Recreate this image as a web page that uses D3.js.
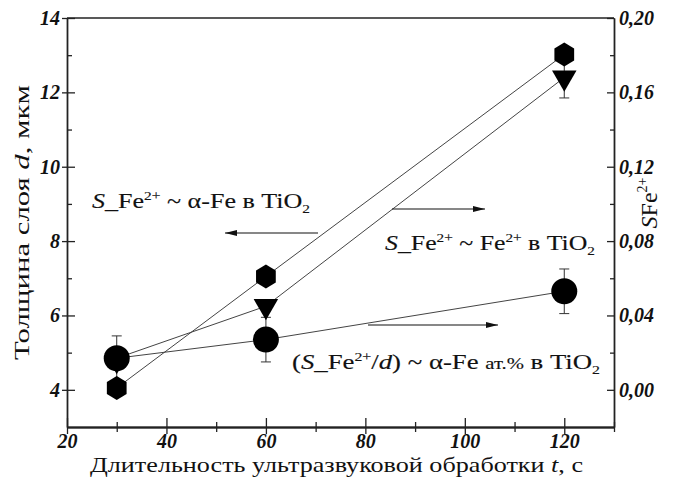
<!DOCTYPE html>
<html lang="ru">
<head>
    <meta charset="UTF-8">
    <title>Толщина слоя и SFe2+</title>
    <script src="https://d3js.org/d3.v7.min.js"></script>
    <style>
        body {
            margin: 0;
            background-color: #ffffff;
        }
        svg text {
            font-family: "Liberation Serif", "Times New Roman", serif;
            fill: #111;
        }
        .domain, .tick line {
            stroke: #222;
            stroke-width: 1.3;
        }
        .fit {
            fill: none;
            stroke: #444;
            stroke-width: 1;
        }
        .err {
            stroke: #333;
            stroke-width: 1;
        }
        .note {
            stroke: #111;
            stroke-width: 0.15;
        }
    </style>
</head>
<body>
<svg id="chart" width="684" height="477"></svg>
<script>
    // data
    const times = [30, 60, 120];
    const hexValues = [4.05, 7.05, 13.02];          // left axis, d, мкм
    const triValues = [0.016, 0.045, 0.168];        // right axis, SFe2+
    const triErr = [0, 0, 0.011];
    const circValues = [0.017, 0.027, 0.053];       // right axis
    const circErr = [0.012, 0.012, 0.012];

    const xMajor = [20, 40, 60, 80, 100, 120];
    const xMinor = [30, 50, 70, 90, 110, 130];
    const leftMajor = [4, 6, 8, 10, 12, 14];
    const leftMinor = [5, 7, 9, 11, 13];
    const rightMajor = [0, 0.04, 0.08, 0.12, 0.16, 0.20];
    const rightMinor = [0.02, 0.06, 0.10, 0.14, 0.18];

    const svg = d3.select("#chart");

    const x = d3.scaleLinear().domain([20, 130]).range([67, 614]);
    const yL = d3.scaleLinear().domain([3, 14]).range([427, 18]);
    const yR = d3.scaleLinear().domain([-0.02, 0.20]).range([427, 18]);

    const defs = svg.append("defs");
    defs.append("marker")
        .attr("id", "arrow")
        .attr("viewBox", "0 0 12 6")
        .attr("refX", 12)
        .attr("refY", 3)
        .attr("markerWidth", 12)
        .attr("markerHeight", 6)
        .attr("markerUnits", "userSpaceOnUse")
        .attr("orient", "auto")
      .append("path")
        .attr("d", "M0,0 L12,3 L0,6 Z")
        .attr("fill", "#111");

    // frame top
    svg.append("line")
        .attr("x1", x(20)).attr("x2", x(130))
        .attr("y1", yL(14)).attr("y2", yL(14))
        .attr("stroke", "#222").attr("stroke-width", 1.3);

    // x axis
    const xg = svg.append("g").attr("transform", `translate(0,${yL(3)})`);
    xg.call(d3.axisBottom(x).tickValues(xMajor).tickSize(7).tickPadding(0).tickSizeOuter(0));
    xg.append("g").call(d3.axisTop(x).tickValues(xMajor).tickSize(9).tickFormat("").tickSizeOuter(0));
    xg.append("g").call(d3.axisBottom(x).tickValues(xMinor).tickSize(5).tickFormat("").tickSizeOuter(0));
    xg.append("g").call(d3.axisTop(x).tickValues(xMinor).tickSize(5).tickFormat("").tickSizeOuter(0));

    // left axis
    const lg = svg.append("g").attr("transform", `translate(${x(20)},0)`);
    lg.call(d3.axisLeft(yL).tickValues(leftMajor).tickSize(5).tickPadding(2).tickSizeOuter(0));
    lg.append("g").call(d3.axisRight(yL).tickValues(leftMajor).tickSize(8).tickFormat("").tickSizeOuter(0));
    lg.append("g").call(d3.axisRight(yL).tickValues(leftMinor).tickSize(5).tickFormat("").tickSizeOuter(0));

    // right axis
    const rg = svg.append("g").attr("transform", `translate(${x(130)},0)`);
    rg.call(d3.axisRight(yR).tickValues(rightMajor).tickSize(0).tickPadding(5).tickSizeOuter(0)
        .tickFormat(d => d3.format(".2f")(d).replace(".", ",")));
    rg.append("g").call(d3.axisLeft(yR).tickValues(rightMajor).tickSize(7).tickFormat("").tickSizeOuter(0));
    rg.append("g").call(d3.axisLeft(yR).tickValues(rightMinor).tickSize(4).tickFormat("").tickSizeOuter(0));

    svg.selectAll(".tick text")
        .style("font-family", "'Liberation Serif', serif")
        .style("font-style", "italic")
        .style("font-weight", "bold")
        .style("font-size", "20px");

    // lines
    const lineL = d3.line().x(d => x(d[0])).y(d => yL(d[1]));
    const lineR = d3.line().x(d => x(d[0])).y(d => yR(d[1]));
    svg.append("path").attr("class", "fit").attr("d", lineL(d3.zip(times, hexValues)));
    svg.append("path").attr("class", "fit")
        .attr("d", lineR([[times[0], circValues[0]], ...d3.zip(times, triValues).slice(1)]));
    svg.append("path").attr("class", "fit").attr("d", lineR(d3.zip(times, circValues)));

    // error bars
    function errorBars(vals, errs) {
        times.forEach((t, i) => {
            if (!errs[i]) return;
            const cx = x(t), y1 = yR(vals[i] + errs[i]), y2 = yR(vals[i] - errs[i]);
            svg.append("line").attr("class", "err").attr("x1", cx).attr("x2", cx).attr("y1", y1).attr("y2", y2);
            [y1, y2].forEach(yy => svg.append("line").attr("class", "err")
                .attr("x1", cx - 5).attr("x2", cx + 5).attr("y1", yy).attr("y2", yy));
        });
    }
    errorBars(triValues, triErr);
    errorBars(circValues, circErr);

    // markers
    const triangle = d3.symbol().type(d3.symbolTriangle).size(260);
    svg.selectAll(".tri").data(d3.zip(times, triValues)).enter().append("path")
        .attr("class", "tri")
        .attr("d", triangle)
        .attr("transform", d => `translate(${x(d[0])},${yR(d[1])}) rotate(180)`)
        .attr("fill", "#000");

    svg.selectAll(".circ").data(d3.zip(times, circValues)).enter().append("circle")
        .attr("cx", d => x(d[0])).attr("cy", d => yR(d[1]))
        .attr("r", 13).attr("fill", "#000");

    const hexR = 12;
    const hexPath = d3.range(6).map(k => {
        const a = Math.PI / 3 * k - Math.PI / 2;
        return [hexR * 0.95 * Math.cos(a), hexR * Math.sin(a)];
    });
    svg.selectAll(".hex").data(d3.zip(times, hexValues)).enter().append("path")
        .attr("d", "M" + hexPath.join("L") + "Z")
        .attr("transform", d => `translate(${x(d[0])},${yL(d[1])})`)
        .attr("fill", "#000");

    // axis titles
    const xt = svg.append("text")
        .attr("x", 90).attr("y", 472)
        .attr("font-size", 21)
        .attr("textLength", 493)
        .attr("lengthAdjust", "spacingAndGlyphs");
    xt.append("tspan").text("Длительность ультразвуковой обработки ");
    xt.append("tspan").attr("font-style", "italic").text("t");
    xt.append("tspan").text(", с");

    const yt = svg.append("text")
        .attr("transform", "translate(29,360) rotate(-90)")
        .attr("font-size", 22)
        .attr("textLength", 275)
        .attr("lengthAdjust", "spacingAndGlyphs");
    yt.append("tspan").text("Толщина слоя ");
    yt.append("tspan").attr("font-style", "italic").text("d");
    yt.append("tspan").text(", мкм");

    const rt = svg.append("text")
        .attr("transform", "translate(657,203) rotate(-90)")
        .attr("text-anchor", "middle")
        .attr("font-size", 24);
    rt.append("tspan").attr("font-style", "italic").text("S");
    rt.append("tspan").text("Fe");
    rt.append("tspan").attr("font-size", 14).attr("dy", -10).text("2+");

    // annotations
    function feLabel(el, parts) {
        parts.forEach(p => {
            const s = el.append("tspan").text(p.t);
            if (p.i) s.attr("font-style", "italic");
            if (p.fs) s.attr("font-size", p.fs);
            if (p.dy) s.attr("dy", p.dy);
        });
    }
    const a1 = svg.append("text").attr("class", "note").attr("x", 92).attr("y", 208).attr("font-size", 22)
        .attr("textLength", 218).attr("lengthAdjust", "spacingAndGlyphs");
    feLabel(a1, [{t: "S", i: 1}, {t: "_Fe"}, {t: "2+", fs: 13, dy: -8}, {t: " ~ α-Fe в TiO", dy: 8},
        {t: "2", fs: 13, dy: 5}]);

    const a2 = svg.append("text").attr("class", "note").attr("x", 385).attr("y", 250).attr("font-size", 22)
        .attr("textLength", 210).attr("lengthAdjust", "spacingAndGlyphs");
    feLabel(a2, [{t: "S", i: 1}, {t: "_Fe"}, {t: "2+", fs: 13, dy: -8}, {t: " ~ Fe", dy: 8},
        {t: "2+", fs: 13, dy: -8}, {t: " в TiO", dy: 8}, {t: "2", fs: 13, dy: 5}]);

    const a3 = svg.append("text").attr("class", "note").attr("x", 292).attr("y", 369).attr("font-size", 22)
        .attr("textLength", 308).attr("lengthAdjust", "spacingAndGlyphs");
    feLabel(a3, [{t: "("}, {t: "S", i: 1}, {t: "_Fe"}, {t: "2+", fs: 13, dy: -8}, {t: "/", dy: 8},
        {t: "d", i: 1}, {t: ") ~ α-Fe "}, {t: "ат.%", fs: 17}, {t: " в TiO"}, {t: "2", fs: 13, dy: 5}]);

    // arrows
    const arrows = [[318, 233, 225, 233], [392, 209, 485, 209], [368, 325, 498, 325]];
    arrows.forEach(a => svg.append("line")
        .attr("x1", a[0]).attr("y1", a[1]).attr("x2", a[2]).attr("y2", a[3])
        .attr("stroke", "#111").attr("stroke-width", 1.2)
        .attr("marker-end", "url(#arrow)"));
</script>
</body>
</html>
